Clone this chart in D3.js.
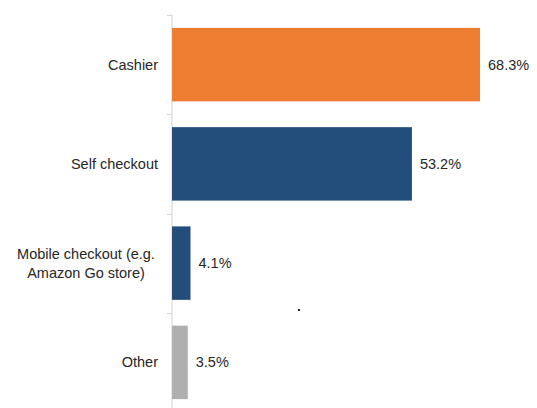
<!DOCTYPE html>
<html>
<head>
<meta charset="utf-8">
<script src="https://cdn.jsdelivr.net/npm/d3@7"></script>
<style>
  html, body { margin: 0; padding: 0; background: #fff; }
  svg { display: block; }
  text { font-family: "Liberation Sans", Arial, sans-serif; fill: #262626; }
</style>
</head>
<body>
<svg id="chart" width="537" height="408"></svg>
<script>
// Checkout method preferences (share of respondents, %)
const categories = ["Cashier", "Self checkout", "Mobile checkout (e.g.\nAmazon Go store)", "Other"];
const values = [68.3, 53.2, 4.1, 3.5];
const colors = ["#ED7D31", "#234D7A", "#234D7A", "#AFAFAF"];

const svg = d3.select("#chart");
const margin = { left: 172, top: 15 };

const x = d3.scaleLinear().domain([0, 68.3]).range([margin.left, 480]);
const y = d3.scaleBand()
  .domain(categories)
  .range([margin.top, 412])
  .paddingInner(0.26)
  .paddingOuter(0.13);

const step = y.step();
const halfGap = step * y.paddingInner() / 2;

// Vertical category axis with tick marks between bands
const axis = svg.append("g");
axis.append("line")
  .attr("x1", x(0)).attr("x2", x(0))
  .attr("y1", margin.top).attr("y2", 408)
  .attr("stroke", "#d9d9d9").attr("stroke-width", 1.2);
categories.forEach(c => {
  const ty = Math.round(y(c) - halfGap) + 0.5;
  axis.append("line")
    .attr("x1", x(0) - 5).attr("x2", x(0))
    .attr("y1", ty).attr("y2", ty)
    .attr("stroke", "#d9d9d9").attr("stroke-width", 1.2);
});

// Bars
svg.append("g").selectAll("rect")
  .data(values)
  .join("rect")
  .attr("x", x(0))
  .attr("y", (d, i) => y(categories[i]))
  .attr("width", d => x(d) - x(0))
  .attr("height", y.bandwidth())
  .attr("fill", (d, i) => colors[i]);

// Category labels
const labels = svg.append("g");
categories.forEach(c => {
  const lines = c.split("\n");
  const cy = y(c) + y.bandwidth() / 2;
  const lh = 19;
  const t = labels.append("text")
    .attr("font-size", 14.5);
  if (lines.length === 1) {
    t.attr("x", 158).attr("y", cy).attr("dy", "0.35em")
      .attr("text-anchor", "end").text(c);
  } else {
    const blockW = 144;
    t.attr("text-anchor", "middle");
    lines.forEach((ln, k) => {
      t.append("tspan")
        .attr("x", 158 - blockW / 2)
        .attr("y", cy + (k - (lines.length - 1) / 2) * lh)
        .attr("dy", "0.35em")
        .text(ln);
    });
  }
});

// Value labels
svg.append("g").selectAll("text")
  .data(values)
  .join("text")
  .attr("x", d => x(d) + 8)
  .attr("y", (d, i) => y(categories[i]) + y.bandwidth() / 2)
  .attr("dy", "0.35em")
  .attr("font-size", 14.5)
  .text(d => d.toFixed(1) + "%");

// Small stray marker in the plot area
svg.append("rect")
  .attr("x", 298).attr("y", 309)
  .attr("width", 2).attr("height", 2)
  .attr("fill", "#222");
</script>
</body>
</html>
